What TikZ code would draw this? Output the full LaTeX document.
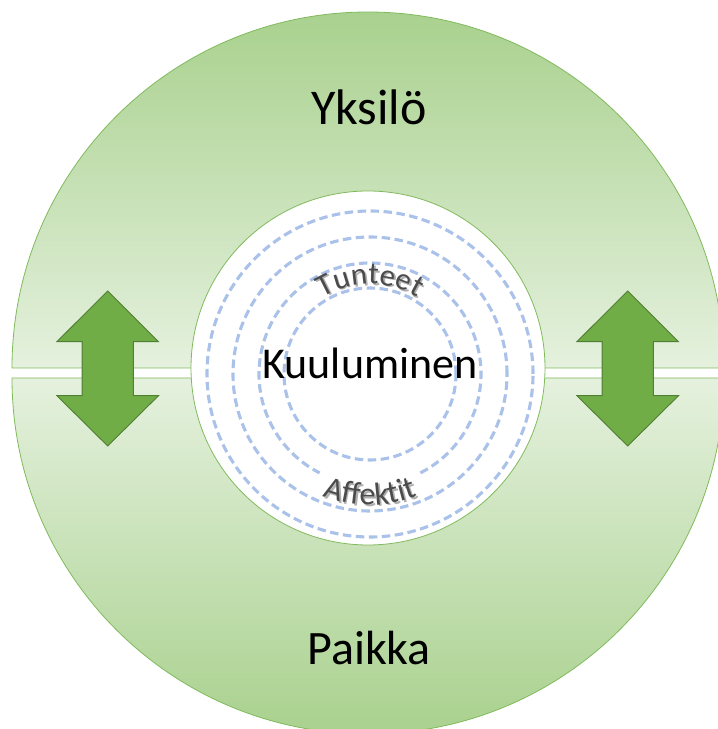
\documentclass[tikz,border=0pt]{standalone}
\usepackage{fontspec}
\setmainfont{Carlito}
\usetikzlibrary{decorations.text}
\definecolor{gdark}{RGB}{169,209,142}
\definecolor{glight}{RGB}{229,241,222}
\definecolor{gline}{RGB}{128,186,92}
\definecolor{arrowfill}{RGB}{112,173,71}
\definecolor{arrowline}{RGB}{80,126,50}
\definecolor{dashblue}{RGB}{170,194,233}
\definecolor{wordgray}{RGB}{75,75,75}
\definecolor{shadowgray}{RGB}{175,175,175}
\begin{document}
\begin{tikzpicture}[x=1pt,y=1pt,
  band/.style={draw=gline, line width=0.8pt},
  ring/.style={draw=dashblue, line width=3.1pt, dash pattern=on 8.5pt off 4.5pt},
  updown/.style={fill=arrowfill, draw=arrowline, line width=0.9pt, line join=miter},
  bigtext/.style={font=\fontsize{#1}{#1}\selectfont, text=black, inner sep=0pt, anchor=base},
]
\useasboundingbox (0,0) rectangle (718,729);
\begin{scope}
\clip (0,0) rectangle (718,729);
\path[band, top color=gdark, bottom color=glight] (12,361) arc[start angle=180,end angle=0,radius=356] -- cycle;
\path[band, top color=glight, bottom color=gdark] (12,351) arc[start angle=180,end angle=360,radius=356] -- cycle;
\end{scope}
% inner white circle
\node[circle, draw=gline, line width=0.8pt, fill=white, minimum size=354pt, inner sep=0pt] (core) at (368,361) {};
% dashed rings
\coordinate (rc) at (370,355);
\draw[ring] (rc) circle[radius=163];
\draw[ring] (rc) circle[radius=137];
\draw[ring] (rc) ++(-63:111) arc[start angle=-63, end angle=243, radius=111];
\draw[ring] (rc) circle[radius=86];
% arrows
\foreach \cx/\nm in {107.7/left, 627.7/right} {
  \draw[updown] (\cx,438) -- (\cx+50.8,387.3) -- (\cx+25.6,387.3) -- (\cx+25.6,333.3) -- (\cx+50.8,333.3)
    -- (\cx,283) -- (\cx-50.8,333.3) -- (\cx-25.6,333.3) -- (\cx-25.6,387.3) -- (\cx-50.8,387.3) -- cycle;
}
% main labels
\node[bigtext=50] (yksilo) at (369,604) {Yksilö};
\node[bigtext=48] (paikka) at (369,64) {Paikka};
\node[bigtext=44] (kuul) at (370,350) {Kuuluminen};
% curved labels with shadow
{\fontsize{31}{31}\selectfont
\path[decorate, decoration={text along path, text={Tunteet}, text align=center, text color=shadowgray}]
  (371.8,353.2) ++(135:90) arc[start angle=135, end angle=45, radius=90];
\path[decorate, decoration={text along path, text={Tunteet}, text align=center, text color=wordgray}]
  (rc) ++(135:90) arc[start angle=135, end angle=45, radius=90];
}
{\fontsize{32}{32}\selectfont
\path[decorate, decoration={text along path, text={Affektit}, text align=center, text color=shadowgray}]
  (371.8,353.2) ++(240:131) arc[start angle=240, end angle=300, radius=131];
\path[decorate, decoration={text along path, text={Affektit}, text align=center, text color=wordgray}]
  (rc) ++(240:131) arc[start angle=240, end angle=300, radius=131];
}
\end{tikzpicture}
\end{document}
